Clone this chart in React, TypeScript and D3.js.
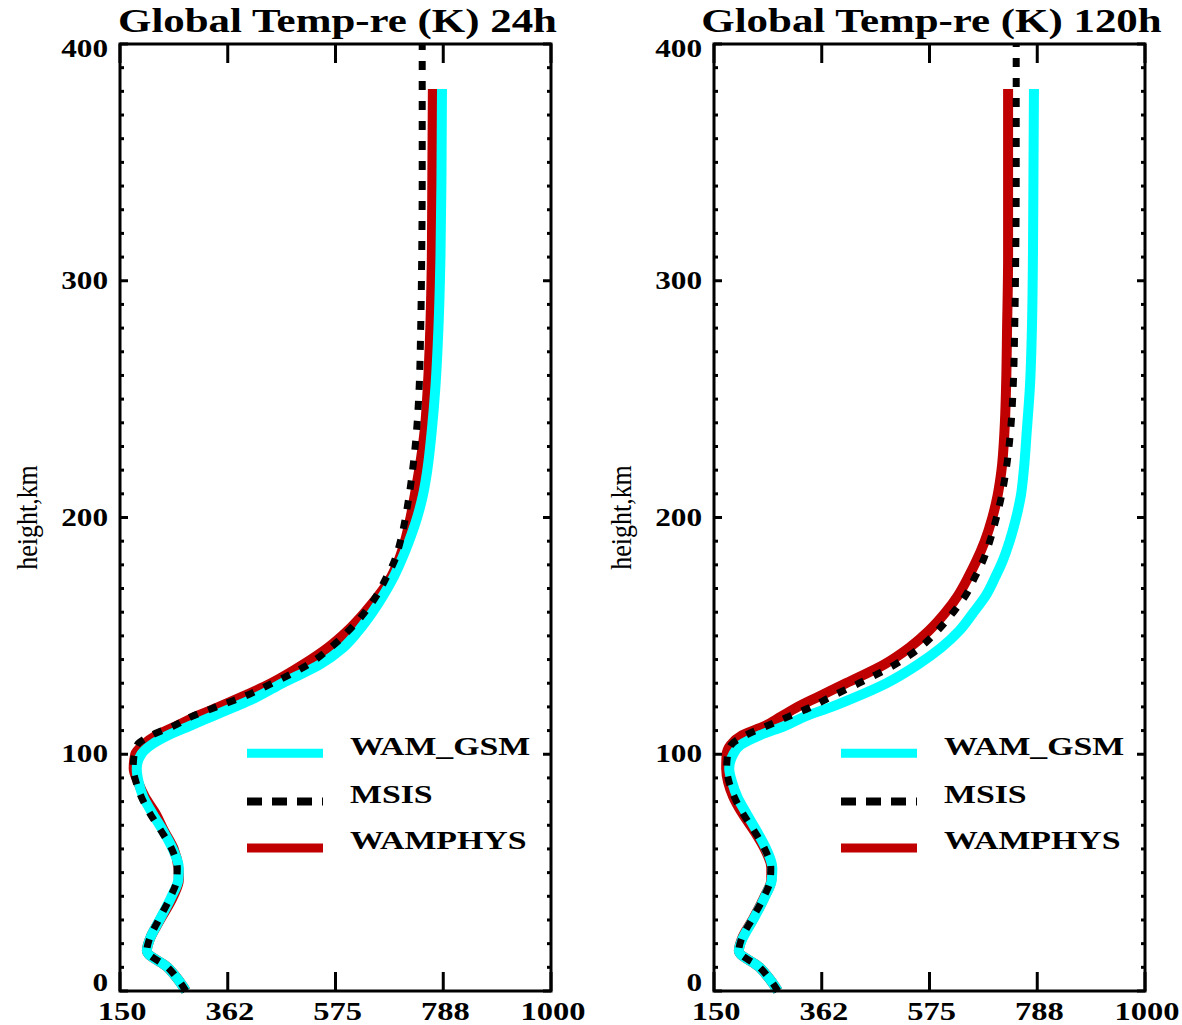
import React from "react";
import * as d3 from "d3";

// axis ticks
const xTickValues = [150, 362.5, 575, 787.5, 1000];
const xTickLabels = ["150", "362", "575", "788", "1000"];
const yTickValues = [0, 100, 200, 300, 400];
const yTickLabels = ["0", "100", "200", "300", "400"];

// heights (km) for the model runs and for MSIS
const hModel = [0, 5, 10, 17, 22, 30, 40, 47, 52, 60, 68, 75, 82, 88, 94, 100, 104, 108, 112, 116, 120, 124, 130, 138, 145, 152, 160, 167, 175, 181, 190, 200, 209, 220, 237, 255, 280, 310, 345, 381];
const hMsis = [0, 5, 10, 17, 22, 30, 40, 47, 52, 60, 68, 75, 82, 88, 94, 100, 104, 108, 112, 116, 120, 124, 130, 138, 145, 152, 160, 167, 175, 181, 190, 200, 209, 220, 237, 255, 280, 310, 345, 380, 400];

// temperatures (K), 24h
const gsm24 = [280, 264, 244, 203, 209, 228, 252, 265, 266, 254, 234, 214, 196, 187, 183, 192, 212, 245, 288, 332, 376, 418, 470, 545, 590, 620, 648, 669, 690, 703, 720, 736, 747, 756, 765, 772, 778, 782, 784, 785];
const msis24 = [280, 264, 244, 203, 208, 226, 250, 262, 263, 252, 230, 209, 192, 182, 176, 178, 184, 212, 256, 292, 340, 390, 450, 522, 565, 600, 633, 656, 676, 690, 703, 713, 720, 727, 735, 740, 743, 745, 746, 746, 746];
const phys24 = [280, 264, 244, 203, 209, 229, 255, 266, 265, 256, 236, 220, 199, 186, 177, 180, 196, 222, 262, 300, 345, 388, 448, 512, 560, 598, 633, 660, 685, 698, 712, 723, 731, 740, 751, 757, 762, 765, 766, 767];

// temperatures (K), 120h
const gsm120 = [276, 260, 240, 199, 206, 227, 251, 264, 265, 253, 233, 214, 196, 186, 180, 188, 203, 240, 290, 330, 382, 428, 490, 553, 598, 633, 662, 686, 705, 718, 733, 746, 755, 761, 767, 773, 777, 779, 780, 781];
const msis120 = [276, 260, 240, 199, 204, 224, 249, 261, 262, 250, 228, 207, 190, 180, 175, 177, 184, 212, 255, 298, 342, 378, 436, 508, 556, 590, 622, 646, 665, 679, 694, 707, 717, 726, 735, 740, 743, 745, 746, 746, 746];
const phys120 = [276, 260, 240, 199, 205, 226, 250, 263, 263, 250, 228, 206, 188, 178, 174, 175, 183, 205, 251, 283, 315, 353, 410, 486, 535, 573, 607, 631, 652, 666, 684, 699, 709, 717, 723, 726, 728, 730, 730, 730];

const titles = ["Global Temp-re (K) 24h", "Global Temp-re (K) 120h"];
const legendNames = ["WAM_GSM", "MSIS", "WAMPHYS"];

const FONT = "'Liberation Serif', 'Times New Roman', serif";
const PW = 431;
const TOP = 44;
const BOTTOM = 991;
const CYAN = "#00ffff";
const RED = "#c00000";

// the source picture is stretched sideways, so text gets a horizontal scale
const Txt = ({ x, y, size, anchor = "start", weight = "bold", sx = 1.25, children }: any) => (
  <text
    transform={`translate(${x},${y}) scale(${sx},1)`}
    fontSize={size}
    fontFamily={FONT}
    fontWeight={weight}
    textAnchor={anchor}
    fill="#000"
  >
    {children}
  </text>
);

const Panel = ({ left, title, gsm, msis, phys }: any) => {
  const x = d3.scaleLinear().domain([150, 1000]).range([left, left + PW]);
  const y = d3.scaleLinear().domain([0, 400]).range([BOTTOM, TOP]);
  const line = d3
    .line<[number, number]>()
    .x((d) => x(d[1]))
    .y((d) => y(d[0]))
    .curve(d3.curveMonotoneY);

  const gsmPts = hModel.map((h, i) => [h, gsm[i]] as [number, number]);
  const physPts = hModel.map((h, i) => [h, phys[i]] as [number, number]);
  const msisPts = hMsis.map((h, i) => [h, msis[i]] as [number, number]);
  const minor = d3.range(10, 400, 10).filter((v) => v % 100 !== 0);

  const legX = left + 127;
  const legY = [y(100), y(80), y(60) - 1];

  return (
    <g>
      <Txt x={left + PW / 2 + 2} y={32} size={33} anchor="middle" sx={1.3}>
        {title}
      </Txt>

      <path d={line(physPts)!} fill="none" stroke={RED} strokeWidth={10} />
      <path d={line(gsmPts)!} fill="none" stroke={CYAN} strokeWidth={10} />
      <path d={line(msisPts)!} fill="none" stroke="#000" strokeWidth={7} strokeDasharray="9,11" />

      {/* frame */}
      <rect x={left} y={TOP} width={PW} height={BOTTOM - TOP} fill="none" stroke="#000" strokeWidth={3} />

      {/* x ticks */}
      {xTickValues.map((v, i) => (
        <g key={"x" + i}>
          <line x1={x(v)} x2={x(v)} y1={BOTTOM} y2={BOTTOM - 19} stroke="#000" strokeWidth={3} />
          <line x1={x(v)} x2={x(v)} y1={TOP} y2={TOP + 19} stroke="#000" strokeWidth={3} />
          <Txt x={x(v) + 2} y={1020} size={25} anchor="middle" sx={1.3}>
            {xTickLabels[i]}
          </Txt>
        </g>
      ))}

      {/* y ticks */}
      {yTickValues.map((v, i) => (
        <g key={"y" + i}>
          <line x1={left} x2={left + 8} y1={y(v)} y2={y(v)} stroke="#000" strokeWidth={3} />
          <line x1={left + PW} x2={left + PW - 8} y1={y(v)} y2={y(v)} stroke="#000" strokeWidth={3} />
          <Txt x={left - 12} y={y(v) + (v === 0 ? 0 : v === 400 ? 13 : 8)} size={25} anchor="end">
            {yTickLabels[i]}
          </Txt>
        </g>
      ))}
      {minor.map((v) => (
        <g key={"m" + v}>
          <line x1={left} x2={left + 4} y1={y(v)} y2={y(v)} stroke="#000" strokeWidth={3} />
          <line x1={left + PW} x2={left + PW - 4} y1={y(v)} y2={y(v)} stroke="#000" strokeWidth={3} />
        </g>
      ))}

      <text
        transform={`translate(${left - 83},${(TOP + BOTTOM) / 2}) scale(1.15,1) rotate(-90)`}
        fontSize={26}
        fontFamily={FONT}
        textAnchor="middle"
        fill="#000"
      >
        height,km
      </text>

      {/* legend */}
      <line x1={legX} x2={legX + 76} y1={legY[0] - 1} y2={legY[0] - 1} stroke={CYAN} strokeWidth={9} />
      <line x1={legX} x2={legX + 76} y1={legY[1]} y2={legY[1]} stroke="#000" strokeWidth={8} strokeDasharray="15,10" />
      <line x1={legX} x2={legX + 76} y1={legY[2]} y2={legY[2]} stroke={RED} strokeWidth={9} />
      {legendNames.map((n, i) => (
        <Txt key={n} x={left + 230} y={legY[i] + 1} size={26} sx={1.3}>
          {n}
        </Txt>
      ))}
    </g>
  );
};

export default function App() {
  return (
    <svg width={1182} height={1025} style={{ position: "absolute", left: 0, top: 0, background: "#fff" }}>
      <rect width={1182} height={1025} fill="#fff" />
      <Panel left={120} title={titles[0]} gsm={gsm24} msis={msis24} phys={phys24} />
      <Panel left={714} title={titles[1]} gsm={gsm120} msis={msis120} phys={phys120} />
    </svg>
  );
}
